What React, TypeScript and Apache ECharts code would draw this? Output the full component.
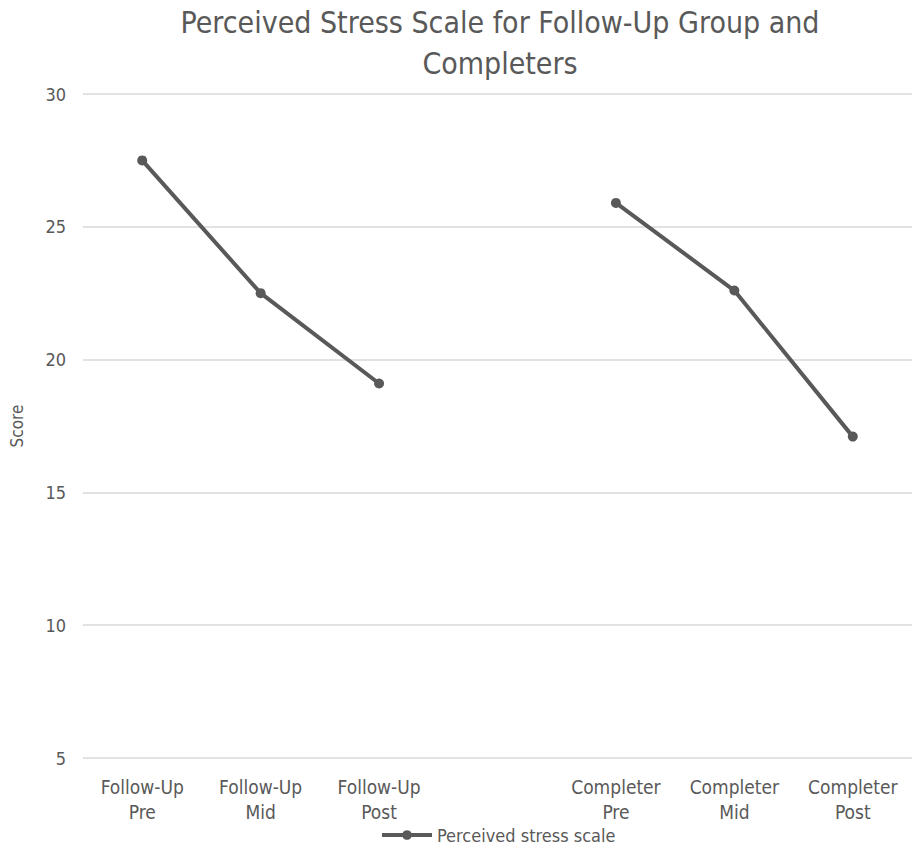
import React, { useEffect, useRef } from "react";
import * as echarts from "echarts";

const categories = [
  "Follow-Up\nPre",
  "Follow-Up\nMid",
  "Follow-Up\nPost",
  "",
  "Completer\nPre",
  "Completer\nMid",
  "Completer\nPost",
];
const scores: (number | null)[] = [27.5, 22.5, 19.1, null, 25.9, 22.6, 17.1];
const seriesName = "Perceived stress scale";
const titleText = "Perceived Stress Scale for Follow-Up Group and\nCompleters";

const FONT = "'DejaVu Sans Condensed', 'DejaVu Sans', sans-serif";

export default function App() {
  const ref = useRef<HTMLDivElement>(null);
  useEffect(() => {
    if (!ref.current) return;
    const chart = echarts.init(ref.current, undefined, { renderer: "svg" });
    chart.setOption({
      animation: false,
      textStyle: { fontFamily: FONT },
      title: {
        text: titleText,
        left: 495,
        textAlign: "center",
        top: -3,
        textStyle: {
          fontFamily: FONT,
          fontSize: 30,
          fontWeight: "normal",
          color: "#595959",
          lineHeight: 41,
        },
      },
      legend: {
        top: 826,
        left: 380,
        itemWidth: 50,
        itemHeight: 12,
        itemGap: 4,
        padding: 0,
        lineStyle: { width: 4, color: "#595959" },
        textStyle: { fontFamily: FONT, fontSize: 18, color: "#595959" },
        data: [{ name: seriesName }],
      },
      grid: { left: 77, right: 3, top: 94, bottom: 91 },
      xAxis: {
        type: "category",
        data: categories,
        boundaryGap: true,
        axisLine: { show: false },
        axisTick: { show: false },
        axisLabel: {
          interval: 0,
          color: "#595959",
          fontFamily: FONT,
          fontSize: 19,
          lineHeight: 25,
          margin: 16,
        },
      },
      yAxis: {
        type: "value",
        min: 5,
        max: 30,
        interval: 5,
        name: "Score",
        nameLocation: "middle",
        nameRotate: 90,
        nameGap: 58,
        nameTextStyle: { color: "#595959", fontFamily: FONT, fontSize: 17 },
        axisLine: { show: false },
        axisTick: { show: false },
        axisLabel: { color: "#595959", fontFamily: FONT, fontSize: 18, margin: 17 },
        splitLine: { lineStyle: { color: "#d9d9d9", width: 1.5 } },
      },
      series: [
        {
          name: seriesName,
          type: "line",
          data: scores,
          connectNulls: false,
          symbol: "circle",
          symbolSize: 10,
          itemStyle: { color: "#595959" },
          lineStyle: { color: "#595959", width: 4 },
        },
      ],
    });
    return () => chart.dispose();
  }, []);
  return (
    <div
      ref={ref}
      style={{ position: "absolute", left: 0, top: 0, width: 915, height: 849 }}
    />
  );
}
